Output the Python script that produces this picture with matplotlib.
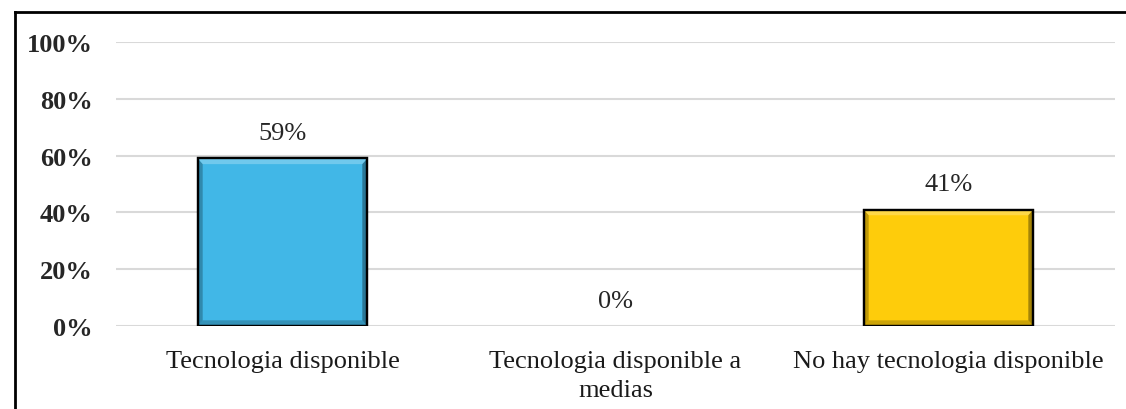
import matplotlib
matplotlib.use("Agg")
import matplotlib.pyplot as plt
from matplotlib.patches import Polygon
from matplotlib.lines import Line2D

# data
categories = ["Tecnologia disponible", "Tecnologia disponible a\nmedias", "No hay tecnologia disponible"]
values = [0.59, 0.0, 0.41]
labels = ["59%", "0%", "41%"]
colors = ["#41B7E7", "#3FB5E5", "#FECC0B"]
yticks = [0, 0.2, 0.4, 0.6, 0.8, 1.0]
ytick_labels = ["0%", "20%", "40%", "60%", "80%", "100%"]

plt.rcParams['font.family'] = ['Liberation Serif', 'DejaVu Serif']

fig = plt.figure(figsize=(11.26, 4.10), dpi=100)
ax = fig.add_axes([116 / 1126, 1 - 327 / 410, (1115 - 116) / 1126, (327 - 43) / 410])

x = list(range(len(categories)))
bars = ax.bar(x, values, width=0.51, color=colors, edgecolor="black",
              linewidth=[1.6 if v > 0 else 0 for v in values], zorder=3)

# bevel shading on each bar
for b in bars:
    h = b.get_height()
    if h <= 0:
        continue
    x0, w = b.get_x(), b.get_width()
    dx, dy = w * 0.03, 0.02
    light = [(x0, h), (x0 + w, h), (x0 + w - dx, h - dy), (x0 + dx, h - dy)]
    left = [(x0, 0), (x0, h), (x0 + dx, h - dy), (x0 + dx, dy)]
    right = [(x0 + w, 0), (x0 + w, h), (x0 + w - dx, h - dy), (x0 + w - dx, dy)]
    bottom = [(x0, 0), (x0 + w, 0), (x0 + w - dx, dy), (x0 + dx, dy)]
    ax.add_patch(Polygon(light, closed=True, facecolor="white", alpha=0.25, lw=0, zorder=4))
    ax.add_patch(Polygon(left, closed=True, facecolor="black", alpha=0.25, lw=0, zorder=4))
    ax.add_patch(Polygon(right, closed=True, facecolor="black", alpha=0.35, lw=0, zorder=4))
    ax.add_patch(Polygon(bottom, closed=True, facecolor="black", alpha=0.2, lw=0, zorder=4))
    ax.add_patch(plt.Rectangle((x0, 0), w, h, fill=False, edgecolor="black", lw=1.6, zorder=5))

for xi, v, lab in zip(x, values, labels):
    ax.text(xi, v + 0.05, lab, ha="center", va="bottom", fontsize=19, color="#262626", zorder=6)

ax.set_ylim(0, 1)
ax.set_xlim(-0.5, len(categories) - 0.5)
ax.set_yticks(yticks)
ax.set_yticklabels(ytick_labels, fontsize=19, fontweight="bold", color="#262626")
ax.set_xticks(x)
ax.set_xticklabels(categories, fontsize=19, color="#1a1a1a", linespacing=1.45)
ax.tick_params(axis="both", length=0)
ax.tick_params(axis="y", pad=17)
ax.tick_params(axis="x", pad=17)
ax.yaxis.grid(True, color="#D9D9D9", linewidth=1.5, zorder=0)
ax.set_axisbelow(True)
for s in ax.spines.values():
    s.set_visible(False)

# outer chart border (top and left visible)
fig.add_artist(Line2D([15 / 1126, 15 / 1126], [0, 1 - 13 / 410], color="black", lw=2, transform=fig.transFigure))
fig.add_artist(Line2D([15 / 1126, 1], [1 - 13 / 410, 1 - 13 / 410], color="black", lw=2, transform=fig.transFigure))

plt.savefig("out.png", dpi=100)
